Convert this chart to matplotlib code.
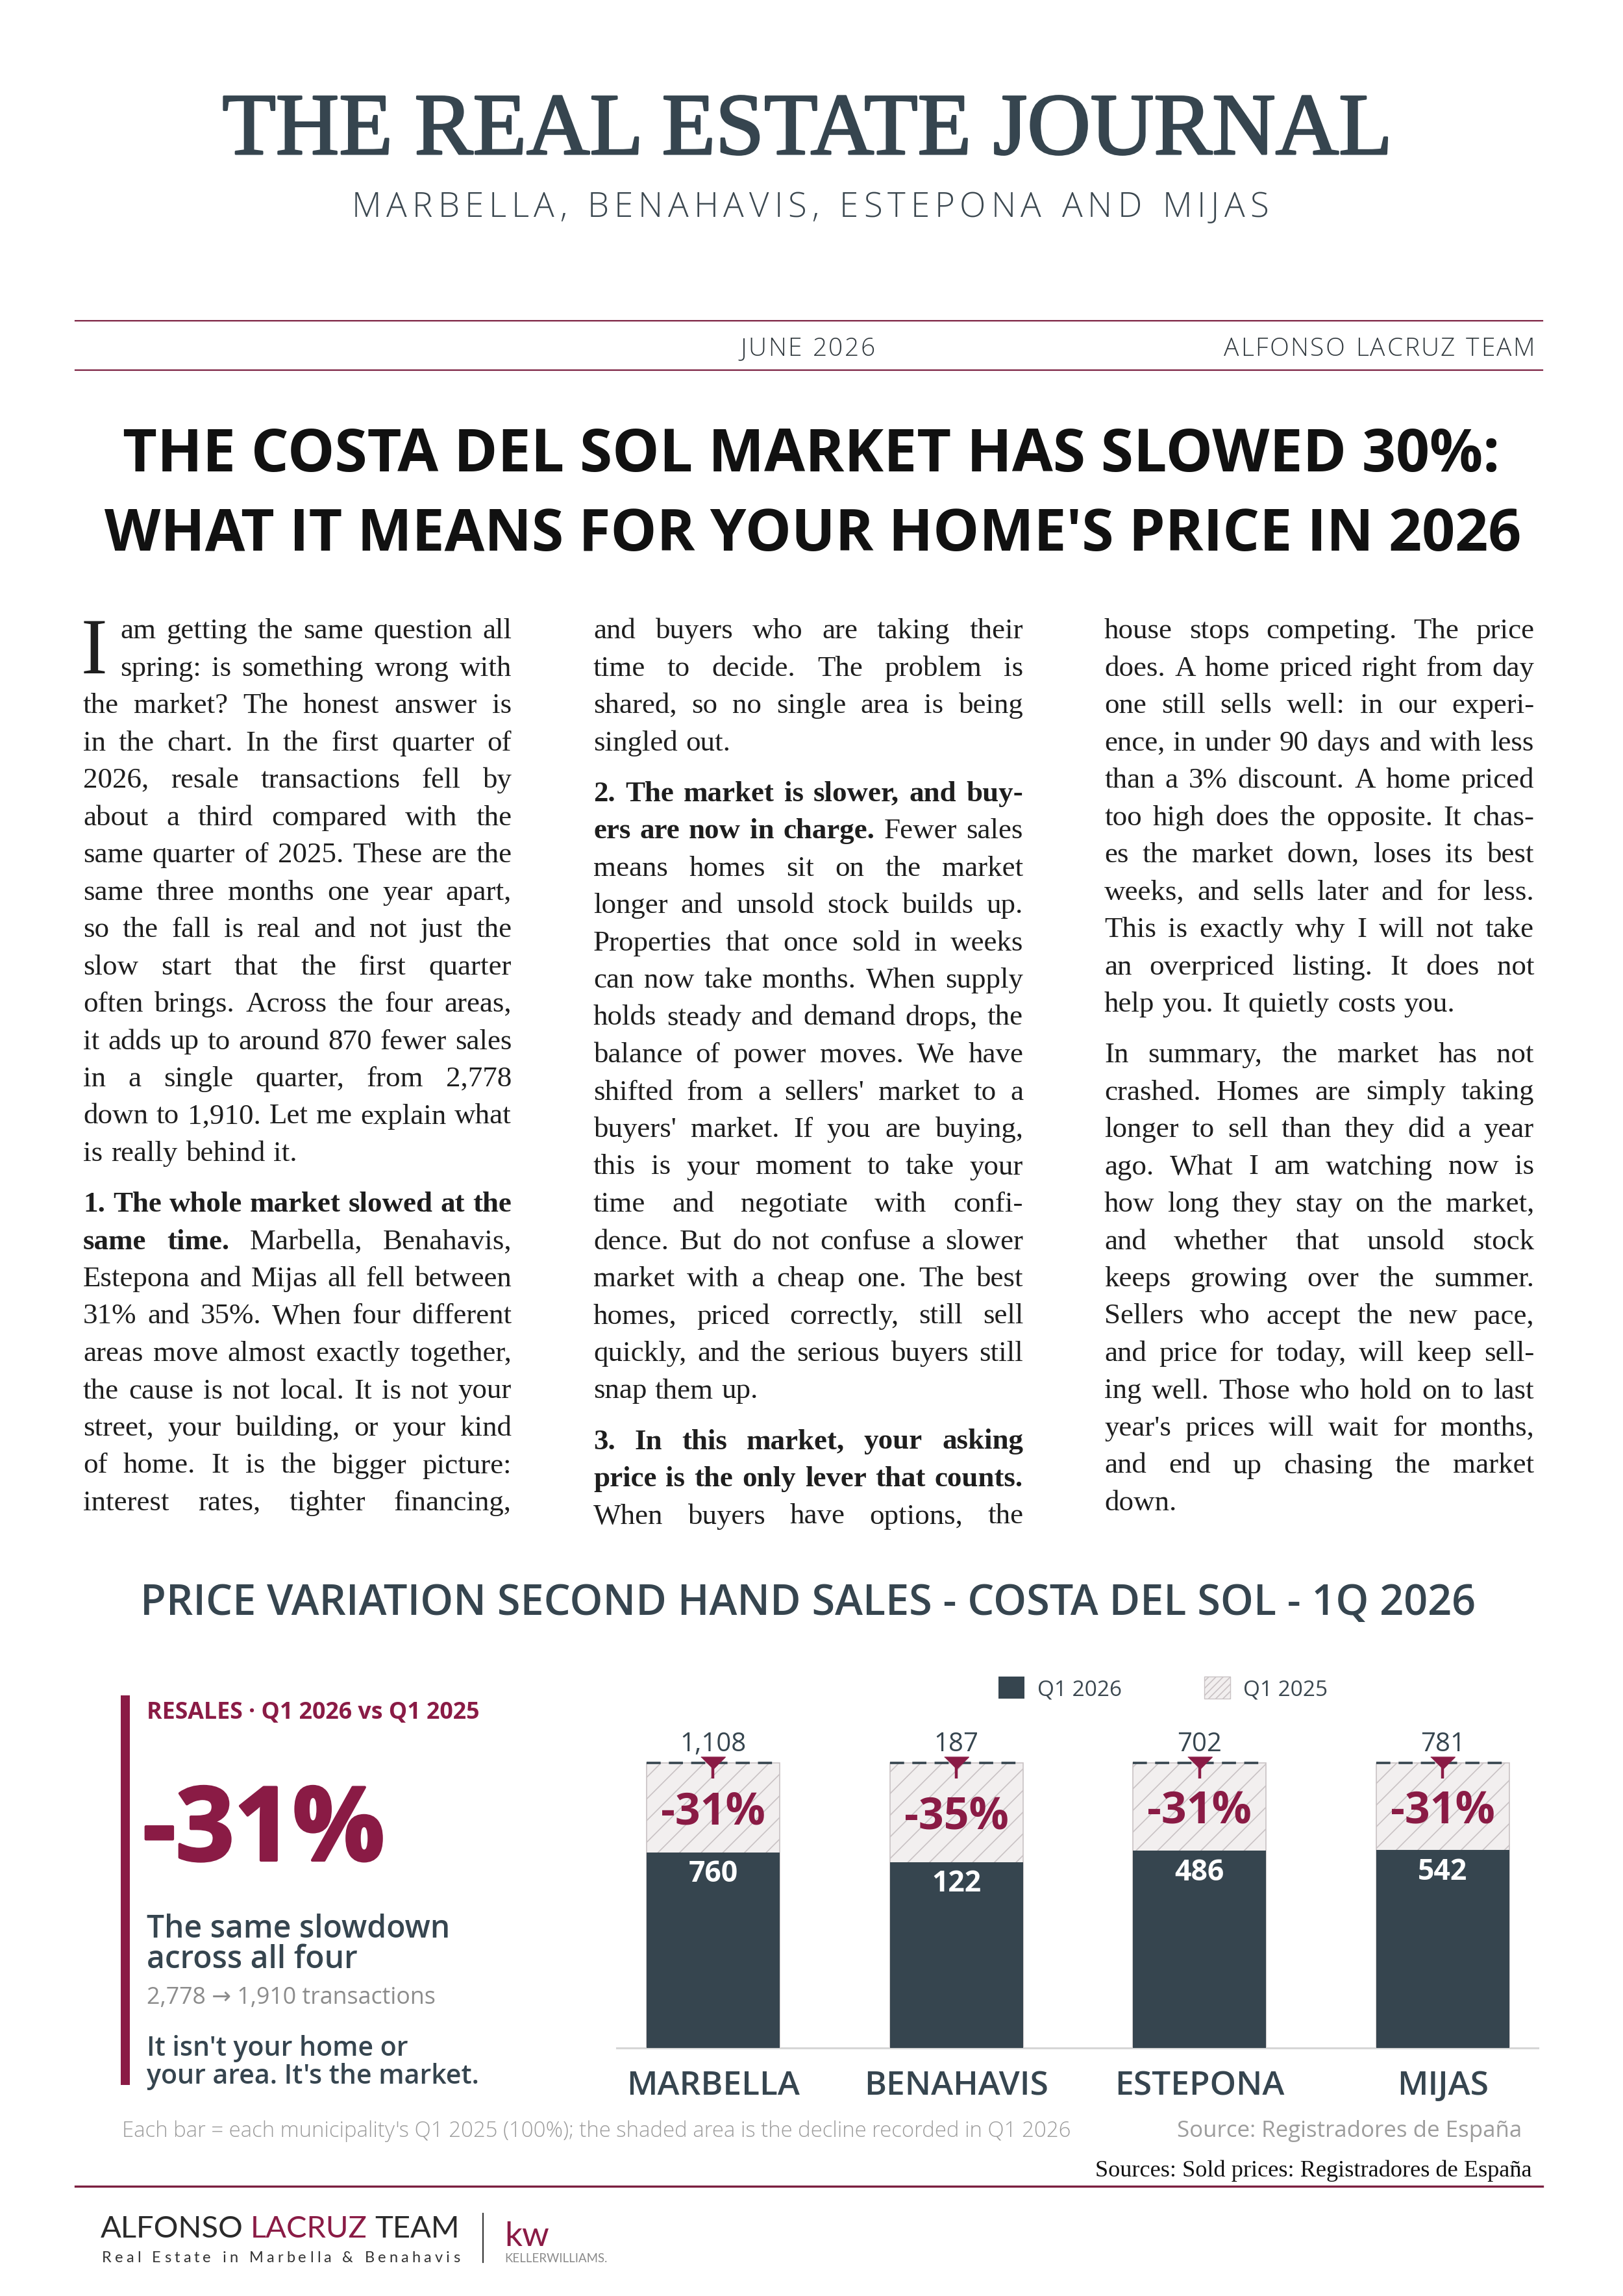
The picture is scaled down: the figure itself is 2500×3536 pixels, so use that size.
import matplotlib
matplotlib.use("Agg")
import matplotlib.pyplot as plt
from matplotlib.patches import Patch, Rectangle
from matplotlib.font_manager import FontProperties
import matplotlib.patheffects as pe
import numpy as np

# chart data
areas = ["MARBELLA", "BENAHAVIS", "ESTEPONA", "MIJAS"]
q1_2025 = [1108, 187, 702, 781]
q1_2026 = [760, 122, 486, 542]

# article text, one list per column, one sub-list per paragraph (*...* = bold)
col1 = [
    ["am getting the same question all",
     "spring: is something wrong with",
     "the market? The honest answer is",
     "in the chart. In the first quarter of",
     "2026, resale transactions fell by",
     "about a third compared with the",
     "same quarter of 2025. These are the",
     "same three months one year apart,",
     "so the fall is real and not just the",
     "slow start that the first quarter",
     "often brings. Across the four areas,",
     "it adds up to around 870 fewer sales",
     "in a single quarter, from 2,778",
     "down to 1,910. Let me explain what",
     "is really behind it."],
    ["*1. The whole market slowed at the*",
     "*same time.* Marbella, Benahavis,",
     "Estepona and Mijas all fell between",
     "31% and 35%. When four different",
     "areas move almost exactly together,",
     "the cause is not local. It is not your",
     "street, your building, or your kind",
     "of home. It is the bigger picture:",
     "interest rates, tighter financing,+"],
]
col2 = [
    ["and buyers who are taking their",
     "time to decide. The problem is",
     "shared, so no single area is being",
     "singled out."],
    ["*2. The market is slower, and buy-*",
     "*ers are now in charge.* Fewer sales",
     "means homes sit on the market",
     "longer and unsold stock builds up.",
     "Properties that once sold in weeks",
     "can now take months. When supply",
     "holds steady and demand drops, the",
     "balance of power moves. We have",
     "shifted from a sellers' market to a",
     "buyers' market. If you are buying,",
     "this is your moment to take your",
     "time and negotiate with confi-",
     "dence. But do not confuse a slower",
     "market with a cheap one. The best",
     "homes, priced correctly, still sell",
     "quickly, and the serious buyers still",
     "snap them up."],
    ["*3. In this market, your asking*",
     "*price is the only lever that counts.*",
     "When buyers have options, the+"],
]
col3 = [
    ["house stops competing. The price",
     "does. A home priced right from day",
     "one still sells well: in our experi-",
     "ence, in under 90 days and with less",
     "than a 3% discount. A home priced",
     "too high does the opposite. It chas-",
     "es the market down, loses its best",
     "weeks, and sells later and for less.",
     "This is exactly why I will not take",
     "an overpriced listing. It does not",
     "help you. It quietly costs you."],
    ["In summary, the market has not",
     "crashed. Homes are simply taking",
     "longer to sell than they did a year",
     "ago. What I am watching now is",
     "how long they stay on the market,",
     "and whether that unsold stock",
     "keeps growing over the summer.",
     "Sellers who accept the new pace,",
     "and price for today, will keep sell-",
     "ing well. Those who hold on to last",
     "year's prices will wait for months,",
     "and end up chasing the market",
     "down."],
]

SLATE = "#36454f"
MAROON = "#8a1b45"
RULE = "#7b2040"
GREY = "#9d9d9d"
INK = "#1e1e1e"
HATCH_FILL = "#f2efef"
HATCH_LINE = "#c9c2c4"

SANS = ["Open Sans", "DejaVu Sans"]
SERIF = ["Liberation Serif", "DejaVu Serif"]
LOGO = ["Lato", "DejaVu Sans"]

plt.rcParams["hatch.linewidth"] = 1.2

W, H = 2500, 3537
fig = plt.figure(figsize=(W / 100, H / 100), dpi=100, facecolor="white")
page = fig.add_axes([0, 0, 1, 1])
page.set_xlim(0, W)
page.set_ylim(H, 0)
page.axis("off")
renderer = fig.canvas.get_renderer()


def measure(s, size, family=SANS, weight="normal"):
    prop = FontProperties(family=family, weight=weight, size=size)
    return renderer.get_text_width_height_descent(s, prop, ismath=False)[0]


def fit(x, y, s, width, family=SANS, weight="normal", **kw):
    size = 20 * width / measure(s, 20, family, weight)
    kw.setdefault("va", "baseline")
    return page.text(x, y, s, fontsize=size, family=family, weight=weight, **kw)


def tracked(xc, y, s, width, size, family=SANS, weight="normal", **kw):
    space = 0.3 * size * 100 / 72
    adv = [space if c == " " else measure(c, size, family, weight) for c in s]
    track = (width - sum(adv)) / (len(s) - 1)
    x = xc - width / 2
    for c, a in zip(s, adv):
        if c != " ":
            page.text(x, y, c, fontsize=size, family=family, weight=weight,
                      ha="left", va="baseline", **kw)
        x += a + track


def parse(line):
    out, bold = [], False
    for tok in line.split():
        if tok.startswith("*"):
            bold = True
            tok = tok[1:]
        end = tok.endswith("*")
        if end:
            tok = tok[:-1]
        out.append((tok, bold))
        if end:
            bold = False
    return out


def words_width(words, size):
    return [measure(w, size, SERIF, "bold" if b else "normal") for w, b in words]


def set_line(line, x0, x1, y, size, justify):
    words = parse(line)
    widths = words_width(words, size)
    if justify and len(words) > 1:
        gap = (x1 - x0 - sum(widths)) / (len(words) - 1)
    else:
        gap = 0.28 * size * 100 / 72
    x = x0
    for (w, b), wd in zip(words, widths):
        page.text(x, y, w, fontsize=size, family=SERIF, weight="bold" if b else "normal",
                  color=INK, ha="left", va="baseline")
        x += wd + gap


# column geometry (pixels)
cols = [(col1, 128, 788), (col2, 914, 1576), (col3, 1701, 2363)]
DROP_INDENT = 185
FIRST_BASE = 983
LEAD = 57.5
PARA_GAP = 20.5


def line_span(ci, p, i):
    _, x0, x1 = cols[ci]
    if ci == 0 and p == 0 and i < 2:
        x0 = DROP_INDENT
    return x0, x1


def is_justified(para, i, line):
    return i < len(para) - 1 or line.endswith("+")


# body font size so the densest justified line just fits
ratio = 0
for ci, (paras, _, _) in enumerate(cols):
    for p, para in enumerate(paras):
        for i, line in enumerate(para):
            if not is_justified(para, i, line):
                continue
            words = parse(line.rstrip("+"))
            nat = sum(words_width(words, 28)) + (len(words) - 1) * 0.26 * 28 * 100 / 72
            x0, x1 = line_span(ci, p, i)
            ratio = max(ratio, nat / (x1 - x0))
body_size = 28 / ratio

for ci, (paras, _, _) in enumerate(cols):
    y = FIRST_BASE
    for p, para in enumerate(paras):
        for i, line in enumerate(para):
            x0, x1 = line_span(ci, p, i)
            set_line(line.rstrip("+"), x0, x1, y, body_size, is_justified(para, i, line))
            y += LEAD
        y += PARA_GAP

# drop cap
page.text(125, 1037, "I", fontsize=88, family=SERIF, color=INK, ha="left", va="baseline")

# masthead
fit(1244, 238, "THE REAL ESTATE JOURNAL", 1802, family=SERIF, ha="center", color=SLATE,
    path_effects=[pe.withStroke(linewidth=2.2, foreground=SLATE)])
tracked(1248, 334, "MARBELLA, BENAHAVIS, ESTEPONA AND MIJAS", 1412, 38,
        weight="light", color="#3c4850")
page.plot([116, 2376], [495, 495], color=RULE, lw=1.6)
page.plot([116, 2376], [571, 571], color=RULE, lw=1.6)
tracked(1244, 548, "JUNE 2026", 208, 28, weight="light", color="#333b40")
tracked(2124.5, 548, "ALFONSO LACRUZ TEAM", 479, 28, weight="light", color="#333b40")

# headline
fit(1250, 726, "THE COSTA DEL SOL MARKET HAS SLOWED 30%:", 2124, weight="bold",
    ha="center", color="#111111")
fit(1252, 848, "WHAT IT MEANS FOR YOUR HOME'S PRICE IN 2026", 2184, weight="bold",
    ha="center", color="#111111")

# chart section title
fit(1245, 2487, "PRICE VARIATION SECOND HAND SALES - COSTA DEL SOL - 1Q 2026", 2059,
    weight="semibold", ha="center", color=SLATE)

# left summary panel
total_25 = sum(q1_2025)
total_26 = sum(q1_2026)
total_pct = round((total_26 / total_25 - 1) * 100)
page.add_patch(Rectangle((186, 2612), 14, 600, color=MAROON, lw=0))
fit(226, 2647, "RESALES · Q1 2026 vs Q1 2025", 514, weight="bold", color=MAROON)
fit(220, 2866, f"{total_pct}%", 373, weight="bold", color=MAROON,
    path_effects=[pe.withStroke(linewidth=3, foreground=MAROON)])
t = fit(226, 2984, "The same slowdown", 466, weight="semibold", color=SLATE)
page.text(226, 3031, "across all four", fontsize=t.get_fontsize(), family=SANS,
          weight="semibold", color=SLATE, va="baseline")
fit(226, 3086, f"{total_25:,} → {total_26:,} transactions", 444, color="#8c8c8c")
t = fit(226, 3209, "your area. It's the market.", 511, weight="semibold", color=SLATE)
page.text(226, 3166, "It isn't your home or", fontsize=t.get_fontsize(), family=SANS,
          weight="semibold", color=SLATE, va="baseline")

# bar chart
ax = fig.add_axes([950 / W, 1 - 3155 / H, (2369 - 950) / W, (3155 - 2560) / H])
ax.set_facecolor("none")
x = np.arange(len(areas))
share = np.array(q1_2026) / np.array(q1_2025)
bw = 0.547
ax.bar(x, np.ones(len(areas)), width=bw, color=HATCH_FILL, edgecolor=HATCH_LINE,
       hatch="/", linewidth=1.2, zorder=2)
ax.bar(x, share, width=bw, color=SLATE, linewidth=0, zorder=3)
ax.hlines(np.ones(len(areas)), x - bw / 2, x + bw / 2, colors=SLATE, lw=2.6,
          linestyles=(0, (6, 3.5)), zorder=4)
ax.vlines(x, 0.945, 1.0, colors=MAROON, lw=3.2, zorder=5)
ax.plot(x, np.ones(len(areas)), ls="none", marker=[(-1, 0.5), (1, 0.5), (0, -0.5)],
        markersize=27, color=MAROON, zorder=6)

for i in x:
    ax.annotate(f"{q1_2025[i]:,}", (i, 1.0), xytext=(0, 14), textcoords="offset points",
                ha="center", va="baseline", fontsize=29, family=SANS, color=SLATE, zorder=7)
    pct = round((share[i] - 1) * 100)
    ax.annotate(f"{pct}%", (i, (1 + share[i]) / 2), xytext=(0, -17.5),
                textcoords="offset points", ha="center", va="baseline", fontsize=49,
                family=SANS, weight="bold", color=MAROON, zorder=7)
    ax.annotate(f"{q1_2026[i]}", (i, share[i]), xytext=(0, -32), textcoords="offset points",
                ha="center", va="baseline", fontsize=32, family=SANS, weight="bold",
                color="white", zorder=7)

ax.set_xlim(-0.396, 3.391)
ax.set_ylim(0, (3155 - 2560) / 439)
ax.set_yticks([])
ax.set_xticks(x, areas)
ax.tick_params(axis="x", length=0, pad=24, labelsize=37, labelcolor=SLATE)
for lab in ax.get_xticklabels():
    lab.set_family(SANS)
    lab.set_weight("semibold")
for side in ["top", "right", "left"]:
    ax.spines[side].set_visible(False)
ax.spines["bottom"].set_color("#d6d6d6")
ax.spines["bottom"].set_linewidth(2.2)

handles = [Patch(facecolor=SLATE, label="Q1 2026"),
           Patch(facecolor=HATCH_FILL, edgecolor=HATCH_LINE, hatch="///", label="Q1 2025")]
ax.legend(handles=handles, loc="center left", bbox_to_anchor=(1538 / W, 1 - 2601 / H),
          bbox_transform=fig.transFigure, ncol=2, frameon=False,
          prop={"family": SANS, "size": 24}, labelcolor="#3c4850",
          handlelength=1.2, handleheight=1.2, handletextpad=0.6, columnspacing=3.8,
          borderpad=0, borderaxespad=0)

# notes and sources
fit(188, 3291, "Each bar = each municipality's Q1 2025 (100%); the shaded area is the "
    "decline recorded in Q1 2026", 1458, weight="light", color=GREY)
fit(2344, 3291, "Source: Registradores de España", 529, color=GREY, ha="right")
fit(2360, 3352, "Sources: Sold prices: Registradores de España", 673, family=SERIF,
    color="#111111", ha="right")
page.plot([116, 2376], [3368, 3368], color=RULE, lw=2.4)

# footer logo
logo = [("ALFONSO", "#2a2a2a"), ("LACRUZ", MAROON), ("TEAM", "#2a2a2a")]
lw_ = [measure(w, 20, LOGO) for w, _ in logo]
gap20 = 0.26 * 20 * 100 / 72
logo_size = 20 * 553 / (sum(lw_) + 2 * gap20)
xx = 155
for (w, c), wd in zip(logo, lw_):
    page.text(xx, 3446, w, fontsize=logo_size, family=LOGO, color=c,
              va="baseline", ha="left")
    xx += (wd + gap20) * logo_size / 20
tracked(432.5, 3484, "Real Estate in Marbella & Benahavis", 551, 17, family=LOGO,
        color="#333333")
page.plot([744, 744], [3410, 3485], color="#3a3a3a", lw=1.6)
fit(777, 3459, "kw", 69, family=LOGO, color=MAROON)
fit(777, 3484, "KELLERWILLIAMS.", 158, family=LOGO, color="#8a8a8a")

fig.savefig("out.png", dpi=100, facecolor="white")
